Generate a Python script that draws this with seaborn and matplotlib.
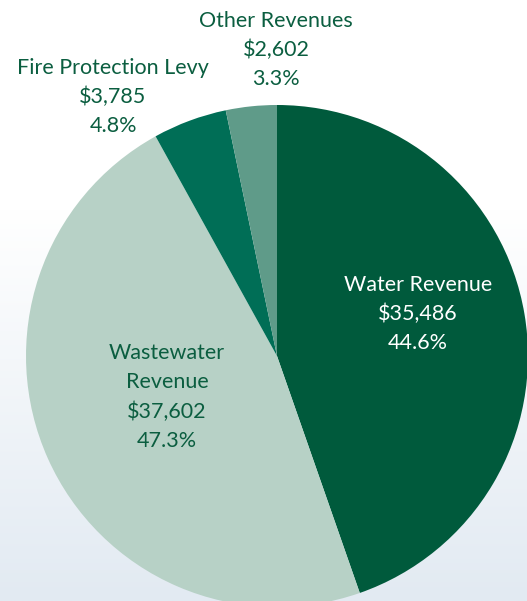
import numpy as np
import seaborn as sns
import matplotlib.pyplot as plt
from matplotlib.colors import LinearSegmentedColormap

sns.set_theme(style="white")
plt.rcParams['font.family'] = ['Lato', 'DejaVu Sans']

categories = ["Water Revenue", "Wastewater\nRevenue", "Fire Protection Levy", "Other Revenues"]
amounts = [35486, 37602, 3785, 2602]
shares = [44.6, 47.3, 4.8, 3.3]
colors = ["#005a3c", "#b7d1c6", "#006e56", "#5f9b89"]

W, H = 527, 601
fig = plt.figure(figsize=(W / 100, H / 100), dpi=100)
ax = fig.add_axes([0, 0, 1, 1])

# soft background gradient: white at top, pale blue-grey at bottom
grad = np.linspace(0, 1, 256).reshape(-1, 1)
cmap = LinearSegmentedColormap.from_list("bg", [(0, "#e2eaf2"), (0.65, "#ffffff"), (1, "#ffffff")])
ax.imshow(grad, extent=[0, W, 0, H], origin="lower", cmap=cmap, aspect="auto", zorder=0)

cx, cy, r = 277, H - 356, 251
wedges, _ = ax.pie(amounts, colors=colors, startangle=90, counterclock=False,
                   center=(cx, cy), radius=r, frame=True,
                   wedgeprops=dict(linewidth=0))
for w in wedges:
    w.set_zorder(1)
ax.set_xlim(0, W)
ax.set_ylim(0, H)
ax.set_aspect("equal")
ax.axis("off")

label_pos = [(418, H - 314), (167, H - 397), (113, H - 97), (276, H - 50)]
label_colors = ["white", "#0b5e40", "#0b5e40", "#0b5e40"]
for name, val, pct, (x, y), c in zip(categories, amounts, shares, label_pos, label_colors):
    txt = f"{name}\n${val:,}\n{pct:.1f}%"
    ax.text(x, y, txt, ha="center", va="center", fontsize=15.5, color=c,
            linespacing=1.55, zorder=3)

fig.savefig("out.png", dpi=100)
